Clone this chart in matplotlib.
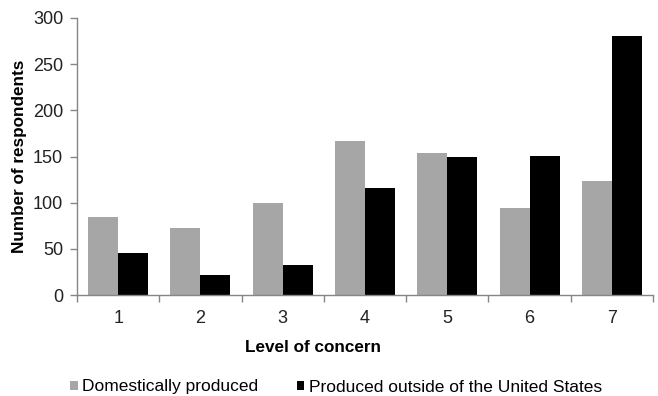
import matplotlib
matplotlib.use("Agg")
import matplotlib.pyplot as plt
import numpy as np

plt.rcParams['font.family'] = ['Liberation Sans', 'DejaVu Sans']

categories = ["1", "2", "3", "4", "5", "6", "7"]
domestic = [85, 73, 100, 167, 154, 94, 123]
foreign = [46, 22, 32, 116, 150, 151, 281]
yticks = [0, 50, 100, 150, 200, 250, 300]

fig = plt.figure(figsize=(6.58, 3.96), dpi=100)
ax = fig.add_axes([77/658, 1 - 295/396, (653-77)/658, (295-18)/396])

x = np.arange(len(categories))
w = 0.365
ax.bar(x - w/2, domestic, width=w, color="#a6a6a6", label="Domestically produced")
ax.bar(x + w/2, foreign, width=w, color="#000000", label="Produced outside of the United States")

ax.set_xlim(-0.5, len(categories) - 0.5)
ax.set_ylim(0, 300)
ax.set_yticks(yticks)
ax.set_yticklabels([str(v) for v in yticks], fontsize=13, color="#222222")
ax.set_xticks(x)
ax.set_xticklabels(categories, fontsize=13, color="#222222")
ax.tick_params(axis='x', length=0, pad=11)
ax.set_xticks(np.arange(-0.5, len(categories) + 0.5, 1), minor=True)
ax.tick_params(axis='x', which='minor', length=5, color="#868686", width=1)
ax.tick_params(axis='y', length=5, color="#868686", width=1, pad=5)

for s in ['top', 'right']:
    ax.spines[s].set_visible(False)
for s in ['left', 'bottom']:
    ax.spines[s].set_color("#868686")
    ax.spines[s].set_linewidth(1)

ax.set_ylabel("Number of respondents", fontsize=12.3, fontweight='bold', labelpad=4)
fig.text(313/658, 1 - 347/396, "Level of concern", fontsize=12.3, fontweight='bold',
         ha='center', va='center')

fig.legend(loc='center', bbox_to_anchor=(336/658, 1 - 387/396), ncol=2, frameon=False,
           fontsize=12.5, handlelength=0.45, handleheight=0.45, handletextpad=0.25,
           columnspacing=2.2)

fig.savefig("out.png", dpi=100)
